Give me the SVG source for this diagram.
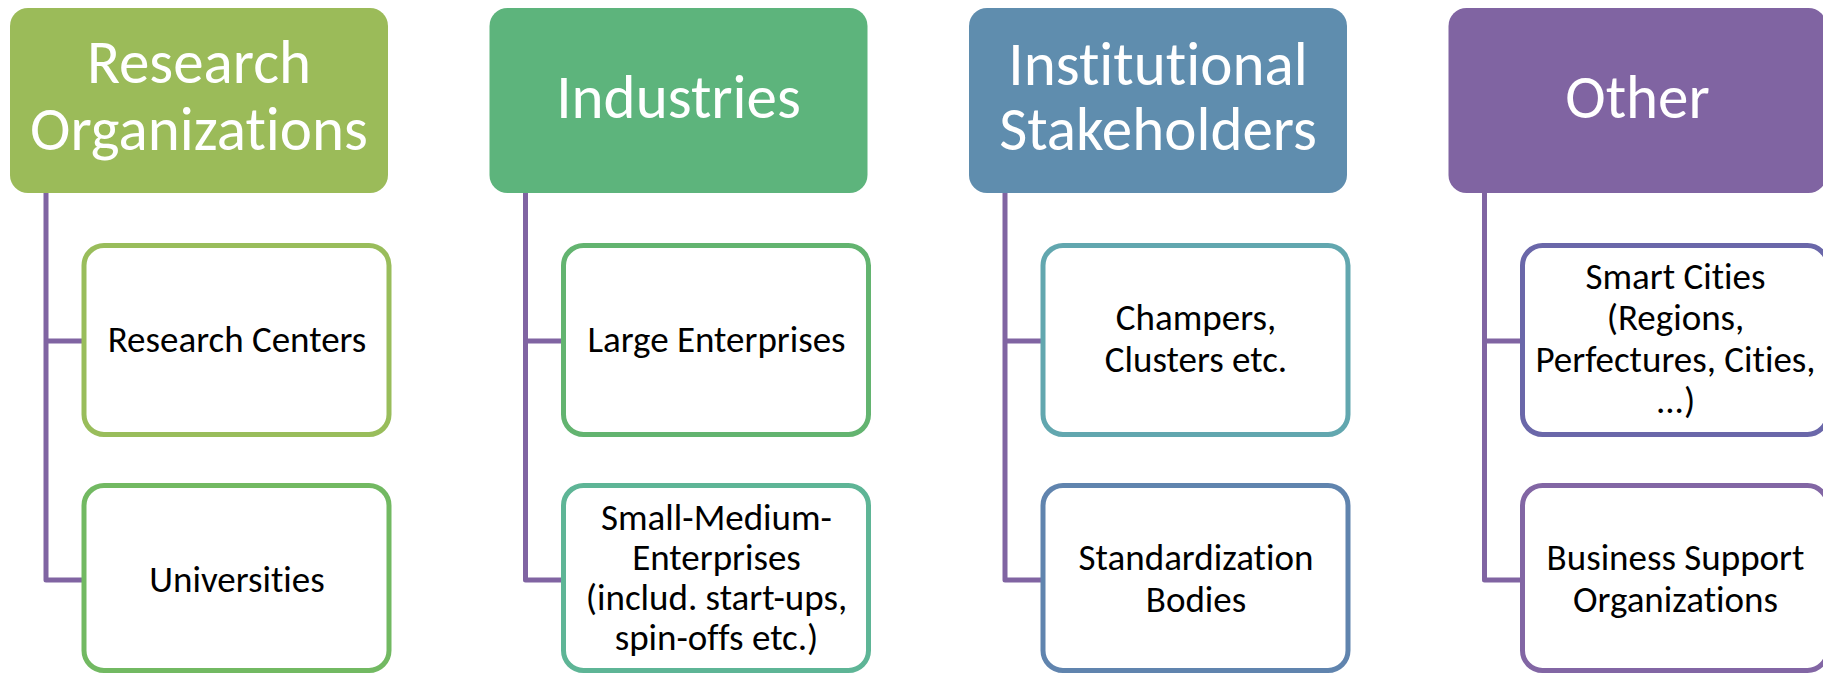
<svg xmlns="http://www.w3.org/2000/svg" width="1823" height="677" viewBox="0 0 1823 677">
<style>
.hdr{stroke:none}
.ht{font-family:Carlito,Lato,"Open Sans",sans-serif;font-size:61px;fill:#ffffff;text-anchor:middle;font-variant-ligatures:none}
.box{fill:#ffffff;stroke-width:5}
.bt{font-family:Carlito,Lato,"Open Sans",sans-serif;font-size:37px;fill:#000000;text-anchor:middle;font-variant-ligatures:none}
.con{fill:none;stroke:#8064A2;stroke-width:5;stroke-linejoin:round}
</style>
<rect width="1823" height="677" fill="#ffffff"/>
<g id="connectors">
<path class="con" d="M46,193 V580 H82 M46,341 H82"/>
<path class="con" d="M525.5,193 V580 H561.5 M525.5,341 H561.5"/>
<path class="con" d="M1005,193 V580 H1041 M1005,341 H1041"/>
<path class="con" d="M1484.5,193 V580 H1520.5 M1484.5,341 H1520.5"/>
</g>
<g id="h1"><rect class="hdr" x="10" y="8" width="378" height="185" rx="18" fill="#9BBB59"/>
<text class="ht" x="199" y="83">Research</text><text class="ht" x="199" y="150">Organizations</text></g>
<g id="h2"><rect class="hdr" x="489.5" y="8" width="378" height="185" rx="18" fill="#5DB47C"/>
<text class="ht" x="678.5" y="118">Industries</text></g>
<g id="h3"><rect class="hdr" x="969" y="8" width="378" height="185" rx="18" fill="#5F8DAE"/>
<text class="ht" x="1158" y="85">Institutional</text><text class="ht" x="1158" y="150">Stakeholders</text></g>
<g id="h4"><rect class="hdr" x="1448.5" y="8" width="378" height="185" rx="18" fill="#8064A2"/>
<text class="ht" x="1637.5" y="118">Other</text></g>

<g id="c1a"><rect class="box" x="84" y="245.5" width="305" height="189" rx="20" stroke="#99BD5B"/>
<text class="bt" x="237" y="352">Research Centers</text></g>
<g id="c1b"><rect class="box" x="84" y="485.5" width="305" height="185" rx="20" stroke="#72B962"/>
<text class="bt" x="237" y="592">Universities</text></g>

<g id="c2a"><rect class="box" x="563.5" y="245.5" width="305" height="189" rx="20" stroke="#63B470"/>
<text class="bt" x="716.5" y="352">Large Enterprises</text></g>
<g id="c2b"><rect class="box" x="563.5" y="485.5" width="305" height="185" rx="20" stroke="#5EB596"/>
<text class="bt" x="716.5" y="530">Small-Medium-</text><text class="bt" x="716.5" y="570">Enterprises</text><text class="bt" x="716.5" y="610">(includ. start-ups,</text><text class="bt" x="716.5" y="650">spin-offs etc.)</text></g>

<g id="c3a"><rect class="box" x="1043" y="245.5" width="305" height="189" rx="20" stroke="#62A7AF"/>
<text class="bt" x="1196" y="330">Champers,</text><text class="bt" x="1196" y="372">Clusters etc.</text></g>
<g id="c3b"><rect class="box" x="1043" y="485.5" width="305" height="185" rx="20" stroke="#6084AE"/>
<text class="bt" x="1196" y="570">Standardization</text><text class="bt" x="1196" y="612">Bodies</text></g>

<g id="c4a"><rect class="box" x="1522.5" y="245.5" width="305" height="189" rx="20" stroke="#6A67A9"/>
<text class="bt" x="1675.5" y="289">Smart Cities</text><text class="bt" x="1675.5" y="330">(Regions,</text><text class="bt" x="1675.5" y="372">Perfectures, Cities,</text><text class="bt" x="1675.5" y="413">...)</text></g>
<g id="c4b"><rect class="box" x="1522.5" y="485.5" width="305" height="185" rx="20" stroke="#8266A4"/>
<text class="bt" x="1675.5" y="570">Business Support</text><text class="bt" x="1675.5" y="612">Organizations</text></g>
</svg>
